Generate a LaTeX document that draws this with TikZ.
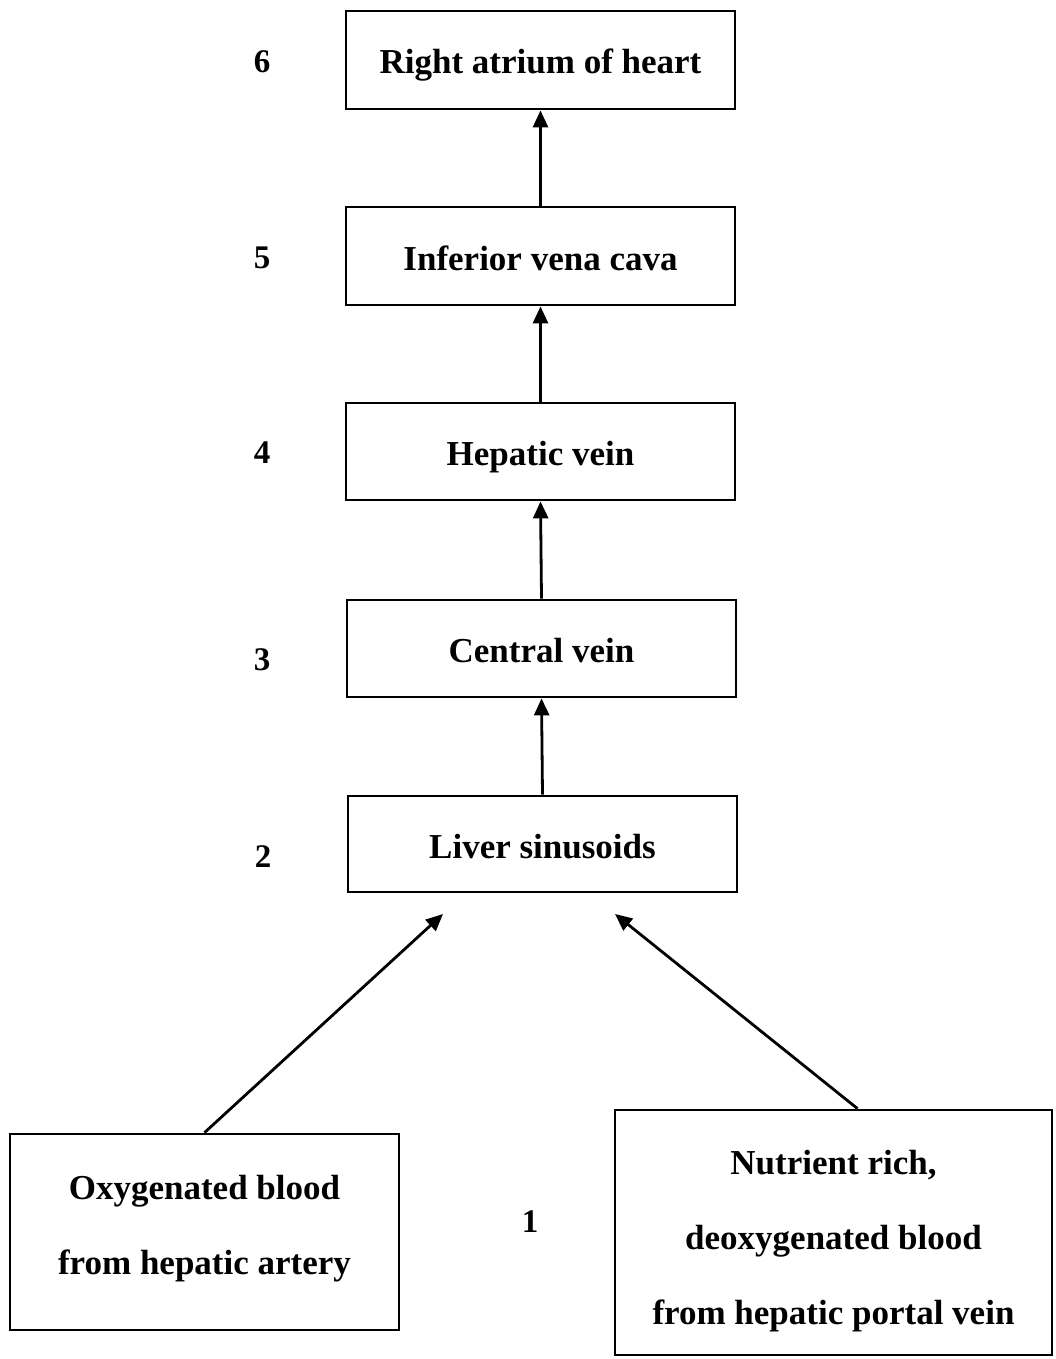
\documentclass[tikz,border=0pt]{standalone}
\usepackage{fontspec}
\setmainfont{Liberation Serif}
\usetikzlibrary{arrows.meta}
\begin{document}
\begin{tikzpicture}[x=1pt,y=-1pt,
  box/.style={draw, line width=2.8pt, inner sep=0pt, align=center,
    font=\bfseries\fontsize{35}{75}\selectfont},
  onebox/.style={box, minimum width=389pt, text height=28pt, text depth=0pt},
  num/.style={font=\bfseries\fontsize{33}{36}\selectfont},
  arr/.style={line width=2.8pt, -{Triangle[length=17pt,width=15pt]}}]
\useasboundingbox (0,0) rectangle (1055,1359);
\node[onebox, minimum height=98pt] (b6) at (540.5,60) {Right atrium of heart};
\node[onebox, minimum height=98pt] (b5) at (540.5,256) {Inferior vena cava};
\node[onebox, minimum height=97pt] (b4) at (540.5,451.5) {Hepatic vein};
\node[onebox, minimum height=97pt] (b3) at (541.5,648.5) {Central vein};
\node[onebox, minimum height=96pt] (b2) at (542.5,844) {Liver sinusoids};
\node[box, minimum width=389pt, minimum height=196pt, text height=84pt, text depth=0pt] (bl) at (204.5,1232) {Oxygenated blood\\from hepatic artery};
\node[box, minimum width=437pt, minimum height=245pt, text height=184pt, text depth=0pt] (br) at (833.5,1232.5) {Nutrient rich,\\deoxygenated blood\\from hepatic portal vein};
\node[num] (n6) at (262,62) {6};
\node[num] (n5) at (262,258) {5};
\node[num] (n4) at (262,453) {4};
\node[num] (n3) at (262,660) {3};
\node[num] (n2) at (263,857) {2};
\node[num] (n1) at (530,1222) {1};
\coordinate (tl) at (443,914);
\coordinate (tr) at (615,914);
\draw[arr] (b5.north) -- (b6.south);
\draw[arr] (b4.north) -- (b5.south);
\draw[arr] (b3.north) -- (b4.south);
\draw[arr] (b2.north) -- (b3.south);
\draw[arr] (bl.north) -- (tl);
\draw[arr] ([xshift=24pt]br.north) -- (tr);
\end{tikzpicture}
\end{document}
